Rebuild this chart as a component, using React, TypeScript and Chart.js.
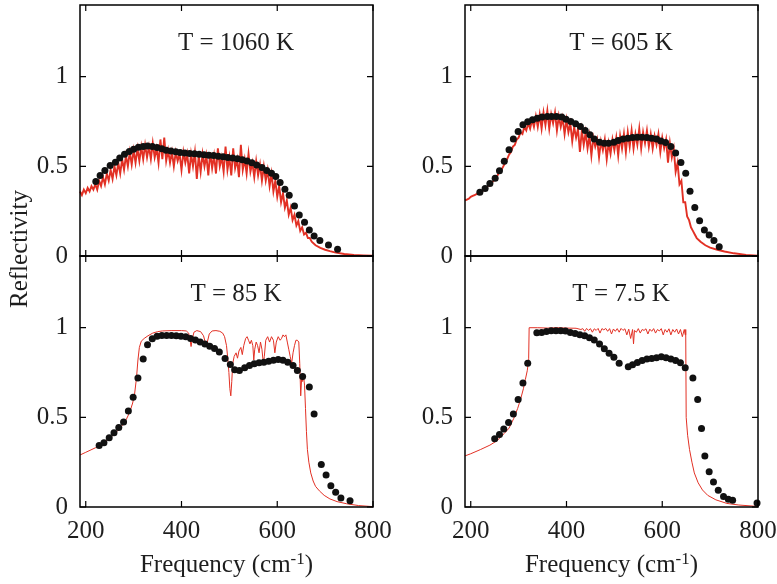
import React, { useEffect, useRef } from "react";
import { Chart, registerables } from "chart.js";

Chart.register(...registerables);

// ---------- data ----------
const X_TICKS = [200, 400, 600, 800];
const Y_TICKS = [0, 0.5, 1];
const X_MIN = 188;
const X_MAX = 800;
const Y_MIN = 0;
const Y_MAX = 1.4;
const PANEL_TITLES = ["T = 1060 K", "T = 605 K", "T = 85 K", "T = 7.5 K"];
const Y_LABEL = "Reflectivity";
const X_LABEL_MAIN = "Frequency (cm";
const X_LABEL_SUP = "-1";
const X_LABEL_END = ")";

const dots1060: [number, number][] = [
  [221, 0.415], [230, 0.449], [240, 0.477], [251, 0.505], [262, 0.523], [271, 0.546], [281, 0.568],
  [291, 0.583], [300, 0.596], [310, 0.607], [320, 0.611], [329, 0.613], [339, 0.611], [349, 0.605],
  [359, 0.598], [368, 0.59], [378, 0.585], [388, 0.581], [397, 0.577], [407, 0.575], [417, 0.572],
  [427, 0.57], [437, 0.567], [447, 0.565], [457, 0.562], [467, 0.56], [477, 0.557], [487, 0.553],
  [497, 0.55], [507, 0.546], [517, 0.542], [527, 0.537], [537, 0.53], [547, 0.52], [557, 0.508],
  [568, 0.493], [578, 0.477], [588, 0.462], [597, 0.443], [606, 0.41], [616, 0.372], [625, 0.339],
  [636, 0.279], [646, 0.229], [657, 0.188], [667, 0.145], [677, 0.112], [689, 0.086], [707, 0.061],
  [726, 0.037],
];

const red1060: [number, number][] = [
  [188, 0.36], [192, 0.34], [196, 0.37], [200, 0.35], [204, 0.38], [208, 0.36], [212, 0.39], [216, 0.37],
  [220, 0.4], [224, 0.37], [228, 0.42], [232, 0.39], [236, 0.44], [240, 0.4], [244, 0.46], [248, 0.42],
  [252, 0.48], [256, 0.43], [260, 0.5], [264, 0.45], [268, 0.52], [272, 0.46], [276, 0.54], [280, 0.48],
  [284, 0.56], [288, 0.5], [292, 0.58], [296, 0.51], [300, 0.59], [304, 0.52], [308, 0.6], [312, 0.53],
  [316, 0.61], [320, 0.54], [324, 0.62], [328, 0.55], [332, 0.61], [336, 0.54], [340, 0.63], [344, 0.55],
  [348, 0.6], [352, 0.52], [356, 0.65], [360, 0.54], [364, 0.66], [368, 0.53], [372, 0.59], [376, 0.52],
  [380, 0.58], [384, 0.5], [388, 0.58], [392, 0.53], [396, 0.57], [400, 0.48], [404, 0.58], [408, 0.52],
  [412, 0.57], [416, 0.46], [420, 0.57], [424, 0.5], [428, 0.58], [432, 0.43], [436, 0.56], [440, 0.47],
  [444, 0.57], [448, 0.5], [452, 0.56], [456, 0.45], [460, 0.58], [464, 0.49], [468, 0.56], [472, 0.46],
  [476, 0.6], [480, 0.5], [484, 0.55], [488, 0.47], [492, 0.61], [496, 0.48], [500, 0.55], [504, 0.45],
  [508, 0.6], [512, 0.49], [516, 0.54], [520, 0.44], [524, 0.62], [528, 0.48], [532, 0.54], [536, 0.46],
  [540, 0.57], [544, 0.47], [548, 0.52], [552, 0.44], [556, 0.53], [560, 0.45], [564, 0.51], [568, 0.42],
  [572, 0.5], [576, 0.42], [580, 0.48], [584, 0.39], [588, 0.46], [592, 0.36], [596, 0.42], [600, 0.33],
  [604, 0.39], [608, 0.3], [612, 0.35], [616, 0.27], [620, 0.31], [624, 0.23], [628, 0.27], [632, 0.2],
  [636, 0.23], [640, 0.17], [644, 0.195], [648, 0.14], [652, 0.16], [656, 0.12], [660, 0.13], [664, 0.1],
  [668, 0.1], [672, 0.08], [680, 0.06], [690, 0.045], [700, 0.035], [710, 0.027], [720, 0.02],
  [740, 0.011], [760, 0.006], [780, 0.003], [800, 0.001],
];

const dots605: [number, number][] = [
  [219, 0.356], [230, 0.376], [240, 0.404], [251, 0.434], [260, 0.475], [270, 0.529], [280, 0.592],
  [289, 0.652], [299, 0.695], [309, 0.732], [319, 0.749], [329, 0.76], [339, 0.769], [349, 0.775],
  [360, 0.778], [369, 0.778], [379, 0.778], [390, 0.775], [399, 0.763], [409, 0.75], [419, 0.737],
  [429, 0.723], [439, 0.7], [449, 0.676], [458, 0.652], [469, 0.635], [479, 0.629], [488, 0.629],
  [499, 0.635], [508, 0.644], [518, 0.652], [528, 0.657], [538, 0.661], [548, 0.663], [558, 0.663],
  [568, 0.661], [578, 0.657], [588, 0.652], [597, 0.642], [607, 0.633], [618, 0.611], [628, 0.574],
  [639, 0.521], [649, 0.462], [658, 0.361], [668, 0.27], [678, 0.197], [688, 0.145], [698, 0.117],
  [708, 0.086], [719, 0.052],
];

const red605: [number, number][] = [
  [188, 0.31], [192, 0.315], [196, 0.32], [200, 0.33], [204, 0.335], [208, 0.34], [212, 0.345], [216, 0.35],
  [220, 0.355], [224, 0.36], [228, 0.37], [232, 0.38], [236, 0.39], [240, 0.4], [244, 0.41], [248, 0.42],
  [252, 0.44], [256, 0.45], [260, 0.47], [264, 0.48], [268, 0.5], [272, 0.52], [276, 0.54], [280, 0.565],
  [284, 0.58], [288, 0.61], [292, 0.62], [296, 0.65], [300, 0.66], [304, 0.69], [308, 0.68], [312, 0.72],
  [316, 0.7], [320, 0.74], [324, 0.71], [328, 0.76], [332, 0.72], [336, 0.78], [340, 0.72], [344, 0.79],
  [348, 0.71], [352, 0.8], [356, 0.73], [360, 0.81], [364, 0.71], [368, 0.79], [372, 0.74], [376, 0.8],
  [380, 0.7], [384, 0.78], [388, 0.72], [392, 0.77], [396, 0.68], [400, 0.76], [404, 0.69], [408, 0.74],
  [412, 0.64], [416, 0.72], [420, 0.66], [424, 0.71], [428, 0.58], [432, 0.7], [436, 0.62], [440, 0.69],
  [444, 0.6], [448, 0.67], [452, 0.56], [456, 0.66], [460, 0.61], [464, 0.65], [468, 0.55], [472, 0.64],
  [476, 0.59], [480, 0.65], [484, 0.54], [488, 0.63], [492, 0.57], [496, 0.65], [500, 0.59], [504, 0.66],
  [508, 0.56], [512, 0.67], [516, 0.6], [520, 0.68], [524, 0.58], [528, 0.69], [532, 0.61], [536, 0.7],
  [540, 0.6], [544, 0.68], [548, 0.62], [552, 0.71], [556, 0.6], [560, 0.69], [564, 0.63], [568, 0.7],
  [572, 0.61], [576, 0.68], [580, 0.6], [584, 0.67], [588, 0.62], [592, 0.68], [596, 0.58], [600, 0.66],
  [604, 0.6], [608, 0.65], [612, 0.52], [616, 0.63], [620, 0.55], [624, 0.6], [628, 0.47], [632, 0.52],
  [636, 0.4], [640, 0.42], [644, 0.3], [648, 0.3], [652, 0.22], [656, 0.2], [660, 0.16], [664, 0.14],
  [668, 0.12], [672, 0.1], [680, 0.08], [690, 0.06], [700, 0.047], [715, 0.035], [730, 0.025],
  [750, 0.015], [775, 0.006], [800, 0.002],
];

const dots85: [number, number][] = [
  [228, 0.343], [238, 0.358], [249, 0.386], [259, 0.414], [269, 0.444], [279, 0.474], [289, 0.535],
  [299, 0.612], [309, 0.72], [320, 0.826], [329, 0.905], [339, 0.938], [349, 0.953], [359, 0.957],
  [369, 0.957], [379, 0.957], [389, 0.955], [399, 0.953], [409, 0.95], [419, 0.94], [429, 0.931],
  [439, 0.92], [449, 0.909], [459, 0.897], [469, 0.884], [479, 0.864], [491, 0.828], [502, 0.795],
  [511, 0.765], [521, 0.761], [532, 0.776], [542, 0.789], [552, 0.799], [562, 0.804], [572, 0.808],
  [582, 0.813], [592, 0.819], [602, 0.823], [612, 0.819], [622, 0.808], [633, 0.789], [642, 0.761],
  [653, 0.728], [667, 0.67], [677, 0.519], [692, 0.237], [702, 0.179], [712, 0.119], [722, 0.082],
  [733, 0.05], [752, 0.035],
];

const red85: [number, number][] = [
  [188, 0.29], [200, 0.305], [220, 0.33], [240, 0.365], [255, 0.395], [265, 0.42], [275, 0.45], [285, 0.49],
  [292, 0.53], [298, 0.58], [302, 0.63], [306, 0.72], [309, 0.82], [312, 0.89], [316, 0.925], [322, 0.94],
  [330, 0.955], [340, 0.97], [350, 0.978], [360, 0.982], [380, 0.984], [400, 0.984], [410, 0.982],
  [415, 0.97], [418, 0.93], [420, 0.895], [422, 0.93], [426, 0.975], [432, 0.984], [440, 0.978],
  [446, 0.955], [450, 0.915], [452, 0.9], [454, 0.92], [458, 0.965], [464, 0.982], [472, 0.984],
  [480, 0.98], [486, 0.97], [490, 0.95], [494, 0.9], [497, 0.82], [499, 0.75], [501, 0.66], [503, 0.62],
  [505, 0.7], [507, 0.8], [510, 0.84], [514, 0.86], [517, 0.83], [520, 0.87], [524, 0.89], [527, 0.85],
  [530, 0.9], [534, 0.94], [537, 0.95], [540, 0.93], [543, 0.91], [546, 0.93], [549, 0.9], [551, 0.82],
  [553, 0.88], [556, 0.92], [559, 0.9], [562, 0.86], [565, 0.92], [568, 0.88], [571, 0.8], [573, 0.84],
  [576, 0.93], [580, 0.95], [584, 0.92], [588, 0.95], [592, 0.93], [595, 0.86], [598, 0.92], [602, 0.95],
  [606, 0.93], [609, 0.94], [612, 0.96], [615, 0.95], [618, 0.96], [621, 0.92], [624, 0.88], [627, 0.84],
  [630, 0.8], [633, 0.86], [636, 0.9], [639, 0.93], [642, 0.93], [645, 0.92], [647, 0.8], [649, 0.62],
  [651, 0.72], [653, 0.7], [655, 0.73], [657, 0.68], [659, 0.55], [661, 0.42], [663, 0.32], [666, 0.25],
  [670, 0.19], [675, 0.145], [680, 0.115], [688, 0.09], [698, 0.065], [710, 0.045], [725, 0.03],
  [745, 0.018], [770, 0.008], [800, 0.002],
];

const dots7_5: [number, number][] = [
  [250, 0.381], [260, 0.405], [269, 0.435], [279, 0.472], [289, 0.519], [299, 0.599], [309, 0.692],
  [319, 0.802], [338, 0.972], [348, 0.974], [358, 0.979], [368, 0.983], [378, 0.983], [388, 0.983],
  [398, 0.981], [408, 0.974], [418, 0.968], [428, 0.961], [438, 0.955], [448, 0.944], [458, 0.931],
  [469, 0.909], [479, 0.882], [489, 0.858], [499, 0.835], [510, 0.802], [529, 0.782], [538, 0.793],
  [548, 0.806], [558, 0.817], [568, 0.825], [578, 0.828], [588, 0.832], [598, 0.838], [608, 0.832],
  [618, 0.826], [628, 0.817], [638, 0.804], [648, 0.776], [664, 0.72], [674, 0.6], [682, 0.438],
  [689, 0.284], [698, 0.196], [707, 0.14], [717, 0.093], [728, 0.058], [738, 0.043], [747, 0.037],
  [798, 0.022],
];

const red7_5: [number, number][] = [
  [188, 0.285], [200, 0.297], [220, 0.32], [240, 0.345], [255, 0.37], [270, 0.41], [280, 0.44], [290, 0.495],
  [298, 0.55], [304, 0.6], [310, 0.66], [314, 0.71], [318, 0.76], [320, 0.8], [321, 0.83], [322, 1.0],
  [340, 1.0], [360, 0.998], [380, 1.0], [400, 0.998], [420, 0.997], [430, 0.99], [434, 0.995], [438, 0.98],
  [442, 0.996], [446, 0.985], [450, 0.995], [454, 0.975], [458, 0.994], [462, 0.985], [466, 0.996],
  [470, 0.97], [474, 0.995], [478, 0.988], [482, 0.996], [486, 0.98], [490, 0.995], [494, 0.965],
  [498, 0.993], [502, 0.98], [506, 0.995], [510, 0.975], [514, 0.996], [518, 0.985], [522, 0.994],
  [526, 0.96], [530, 0.992], [534, 0.94], [538, 0.99], [540, 0.91], [542, 0.985], [546, 0.975],
  [550, 0.995], [554, 0.97], [558, 0.99], [562, 0.985], [566, 0.994], [570, 0.965], [574, 0.992],
  [578, 0.98], [582, 0.995], [586, 0.97], [590, 0.99], [594, 0.982], [598, 0.995], [602, 0.96],
  [606, 0.99], [610, 0.975], [614, 0.994], [618, 0.96], [622, 0.99], [626, 0.975], [630, 0.993],
  [634, 0.965], [638, 0.99], [642, 0.95], [646, 0.99], [648, 0.96], [649, 0.99], [650, 0.5], [653, 0.4],
  [657, 0.32], [662, 0.25], [667, 0.19], [675, 0.135], [684, 0.095], [695, 0.065], [712, 0.04],
  [735, 0.02], [760, 0.011], [800, 0.003],
];

// ---------- layout / style ----------
const W = 777;
const H = 584;
const Y_AXIS_W = 80;
const X_AXIS_H = 77;
const FONT = '"Liberation Serif", "Times New Roman", serif';
const TEXT = "#1e1e1e";
const RED = "rgb(226,48,36)";
const TITLE_X = 514;
const TITLE_Y = 1.15;

type Panel = {
  title: string;
  dots: [number, number][];
  red: [number, number][];
  area: { left: number; right: number; top: number; bottom: number };
  showX: boolean;
  yLabel: boolean;
  redWidth: number;
};

const PANELS: Panel[] = [
  { title: PANEL_TITLES[0], dots: dots1060, red: red1060, area: { left: 80, right: 373, top: 5, bottom: 256 }, showX: false, yLabel: false, redWidth: 1.9 },
  { title: PANEL_TITLES[1], dots: dots605, red: red605, area: { left: 465, right: 758, top: 5, bottom: 256 }, showX: false, yLabel: false, redWidth: 1.9 },
  { title: PANEL_TITLES[2], dots: dots85, red: red85, area: { left: 80, right: 373, top: 256, bottom: 507 }, showX: true, yLabel: true, redWidth: 1 },
  { title: PANEL_TITLES[3], dots: dots7_5, red: red7_5, area: { left: 465, right: 758, top: 256, bottom: 507 }, showX: true, yLabel: false, redWidth: 1 },
];

const framePlugin = {
  id: "frame",
  afterDraw(chart: any, _args: any, opts: any) {
    const { ctx, chartArea: a } = chart;
    const xs = chart.scales.x;
    const ys = chart.scales.y;
    ctx.save();
    // ticks (inward, mirrored)
    ctx.strokeStyle = "#000";
    ctx.lineWidth = 1.2;
    ctx.beginPath();
    const TL = 6;
    for (const v of X_TICKS) {
      const px = xs.getPixelForValue(v);
      ctx.moveTo(px, a.bottom);
      ctx.lineTo(px, a.bottom - TL);
      ctx.moveTo(px, a.top);
      ctx.lineTo(px, a.top + TL);
    }
    for (const v of Y_TICKS) {
      const py = ys.getPixelForValue(v);
      ctx.moveTo(a.left, py);
      ctx.lineTo(a.left + TL, py);
      ctx.moveTo(a.right, py);
      ctx.lineTo(a.right - TL, py);
    }
    ctx.stroke();
    // frame
    ctx.lineWidth = 1.5;
    ctx.strokeRect(a.left, a.top, a.right - a.left, a.bottom - a.top);
    // panel title
    ctx.fillStyle = TEXT;
    ctx.font = `25px ${FONT}`;
    ctx.textAlign = "center";
    ctx.textBaseline = "alphabetic";
    ctx.fillText(opts.title, xs.getPixelForValue(TITLE_X), ys.getPixelForValue(TITLE_Y));
    // x axis title
    if (opts.showX) {
      const cx = (a.left + a.right) / 2;
      const base = a.bottom + 65;
      ctx.font = `25px ${FONT}`;
      const w1 = ctx.measureText(X_LABEL_MAIN).width;
      const w3 = ctx.measureText(X_LABEL_END).width;
      ctx.font = `17px ${FONT}`;
      const w2 = ctx.measureText(X_LABEL_SUP).width;
      let x0 = cx - (w1 + w2 + w3) / 2;
      ctx.textAlign = "left";
      ctx.font = `25px ${FONT}`;
      ctx.fillText(X_LABEL_MAIN, x0, base);
      x0 += w1;
      ctx.font = `17px ${FONT}`;
      ctx.fillText(X_LABEL_SUP, x0, base - 8);
      x0 += w2;
      ctx.font = `25px ${FONT}`;
      ctx.fillText(X_LABEL_END, x0, base);
    }
    // y axis title
    if (opts.yLabel) {
      ctx.save();
      ctx.translate(27, 249);
      ctx.rotate(-Math.PI / 2);
      ctx.font = `25px ${FONT}`;
      ctx.textAlign = "center";
      ctx.textBaseline = "alphabetic";
      ctx.fillText(Y_LABEL, 0, 0);
      ctx.restore();
    }
    ctx.restore();
  },
};

function PanelChart({ panel }: { panel: Panel }) {
  const ref = useRef<HTMLCanvasElement | null>(null);
  useEffect(() => {
    if (!ref.current) return;
    const { area, showX } = panel;
    const chart = new Chart(ref.current, {
      type: "scatter",
      data: {
        datasets: [
          {
            data: panel.dots.map(([x, y]) => ({ x, y })),
            showLine: false,
            pointRadius: 3.5,
            pointBackgroundColor: "#111",
            pointBorderWidth: 0,
            pointHoverRadius: 3.5,
            clip: false,
          } as any,
          {
            data: panel.red.map(([x, y]) => ({ x, y })),
            showLine: true,
            pointRadius: 0,
            pointHoverRadius: 0,
            borderColor: RED,
            borderWidth: panel.redWidth,
            borderJoinStyle: "miter",
            tension: 0,
            clip: false,
          } as any,
        ],
      },
      options: {
        responsive: false,
        animation: false,
        events: [],
        layout: {
          padding: {
            left: area.left - Y_AXIS_W,
            right: W - area.right,
            top: area.top,
            bottom: showX ? H - area.bottom - X_AXIS_H : H - area.bottom,
          },
        },
        plugins: {
          legend: { display: false },
          tooltip: { enabled: false },
          title: { display: false },
          frame: { title: panel.title, showX, yLabel: panel.yLabel },
        } as any,
        scales: {
          x: {
            type: "linear",
            min: X_MIN,
            max: X_MAX,
            display: showX,
            grid: { display: false, drawTicks: false },
            border: { display: false },
            ticks: {
              font: { family: FONT, size: 25 },
              color: TEXT,
              padding: 9,
              maxRotation: 0,
              autoSkip: false,
              callback: (v: any) => String(v),
            },
            afterBuildTicks: (s: any) => {
              s.ticks = X_TICKS.map((value) => ({ value }));
            },
            afterFit: (s: any) => {
              if (showX) {
                s.height = X_AXIS_H;
                s.paddingLeft = 0;
                s.paddingRight = 0;
              }
            },
          },
          y: {
            type: "linear",
            min: Y_MIN,
            max: Y_MAX,
            grid: { display: false, drawTicks: false },
            border: { display: false },
            ticks: {
              font: { family: FONT, size: 25 },
              color: TEXT,
              padding: 12,
              autoSkip: false,
              callback: (v: any) => String(v),
            },
            afterBuildTicks: (s: any) => {
              s.ticks = Y_TICKS.map((value) => ({ value }));
            },
            afterFit: (s: any) => {
              s.width = Y_AXIS_W;
              s.paddingTop = 0;
              s.paddingBottom = 0;
            },
          },
        },
      } as any,
      plugins: [framePlugin],
    });
    return () => chart.destroy();
  }, [panel]);
  return (
    <canvas
      ref={ref}
      width={W}
      height={H}
      style={{ position: "absolute", left: 0, top: 0, width: W, height: H }}
    />
  );
}

export default function App() {
  return (
    <div style={{ position: "absolute", left: 0, top: 0, width: W, height: H, background: "#fff" }}>
      {PANELS.map((p, i) => (
        <PanelChart key={i} panel={p} />
      ))}
    </div>
  );
}
